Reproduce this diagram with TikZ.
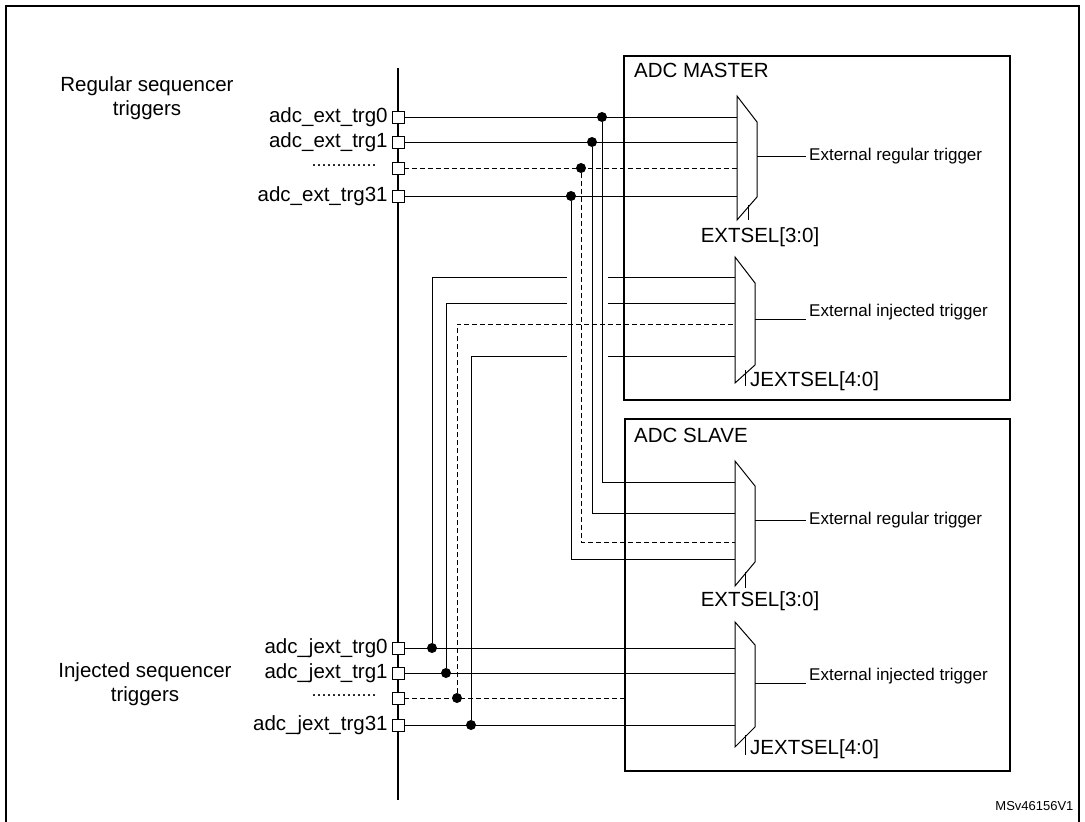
\documentclass[tikz,border=0pt]{standalone}
\usepackage{fontspec}
\setmainfont{Liberation Sans}
\usetikzlibrary{positioning,calc}
\tikzset{
 pin/.style={draw, fill=white, minimum size=12pt, inner sep=0pt},
 lbl/.style={font=\fontsize{20.5}{24}\selectfont, inner sep=1pt},
 sml/.style={font=\fontsize{17}{20}\selectfont, inner sep=1pt, anchor=west},
 wire/.style={line width=1pt},
 dwire/.style={line width=1pt, dash pattern=on 5pt off 3pt},
 joint/.style={circle, fill=black, inner sep=0pt, minimum size=10pt},
}
\begin{document}
\begin{tikzpicture}[x=1pt, y=-1pt]
 \useasboundingbox (0,0) rectangle (1085,822);
 %frame
 \draw[line width=1.4pt] (6,822) -- (6,6) -- (1079,6) -- (1079,822);
 \node[font=\fontsize{13}{15}\selectfont, anchor=east] (ref) at (1077,806) {MSv46156V1};

 %bus
 \draw[line width=1.8pt] (398,68) -- (398,800);

 %boxes
 \draw[line width=1.8pt] (624,56) rectangle (1010,400);
 \draw[line width=1.8pt] (625,419) rectangle (1010,771);
 \node[lbl, anchor=north west] (master) at (633,62) {ADC MASTER};
 \node[lbl, anchor=north west] (slave) at (633,427) {ADC SLAVE};

 %muxes
 \draw[wire] (737,96) -- (757,122) -- (757,197) -- (737,220) -- cycle;
 \draw[wire] (735,257) -- (755,283) -- (755,365) -- (735,383) -- cycle;
 \draw[wire] (735,461) -- (755,486) -- (755,562) -- (735,586) -- cycle;
 \draw[wire] (735,622) -- (755,645) -- (755,727) -- (735,747) -- cycle;
 \draw[wire] (748,205) -- (748,220);
 \draw[wire] (745,370) -- (745,386);
 \draw[wire] (745,572) -- (745,588);
 \draw[wire] (745,735) -- (745,755);
 \node[lbl, anchor=north] (msel) at (760,226) {EXTSEL[3:0]};
 \node[lbl, anchor=north west] (mjsel) at (749,370) {JEXTSEL[4:0]};
 \node[lbl, anchor=north] (ssel) at (760,590) {EXTSEL[3:0]};
 \node[lbl, anchor=north west] (sjsel) at (749,738) {JEXTSEL[4:0]};

 %outputs
 \draw[wire] (757,156) -- (806,156);
 \node[sml] (mro) at (808,156) {External regular trigger};
 \draw[wire] (755,319) -- (806,319);
 \node[sml] (mjo) at (808,312) {External injected trigger};
 \draw[wire] (755,520) -- (806,520);
 \node[sml] (sro) at (808,520) {External regular trigger};
 \draw[wire] (755,683) -- (806,683);
 \node[sml] (sjo) at (808,676) {External injected trigger};

 %pins
 \node[pin] (r0) at (398,117) {};
 \node[pin] (r1) at (398,142) {};
 \node[pin] (r2) at (398,168) {};
 \node[pin] (r3) at (398,196) {};
 \node[pin] (j0) at (398,648) {};
 \node[pin] (j1) at (398,673) {};
 \node[pin] (j2) at (398,698) {};
 \node[pin] (j3) at (398,725) {};
 \node[lbl, left=3pt of r0] (lr0) {adc\_ext\_trg0};
 \node[lbl, left=3pt of r1] (lr1) {adc\_ext\_trg1};
 \node[lbl, left=14pt of r2, font=\fontsize{18}{20}\selectfont] (lr2) {\raisebox{5pt}{.............}};
 \node[lbl, left=3pt of r3] (lr3) {adc\_ext\_trg31};
 \node[lbl, left=3pt of j0] (lj0) {adc\_jext\_trg0};
 \node[lbl, left=3pt of j1] (lj1) {adc\_jext\_trg1};
 \node[lbl, left=14pt of j2, font=\fontsize{18}{20}\selectfont] (lj2) {\raisebox{5pt}{.............}};
 \node[lbl, left=3pt of j3] (lj3) {adc\_jext\_trg31};
 \node[lbl, align=center] (reg) at (147,98) {Regular sequencer\\triggers};
 \node[lbl, align=center] (inj) at (145,684) {Injected sequencer\\triggers};

 %regular triggers
 \node[joint] (d0) at (602,117) {};
 \node[joint] (d1) at (592,142) {};
 \node[joint] (d2) at (581,168) {};
 \node[joint] (d3) at (571,196) {};
 \draw[wire] (r0) -- (737,117);
 \draw[wire] (r1) -- (737,142);
 \draw[dwire] (r2) -- (737,168);
 \draw[wire] (r3) -- (737,196);
 \draw[wire] (d0) |- (735,482);
 \draw[wire] (d1) |- (735,513);
 \draw[dwire] (d2) |- (735,542);
 \draw[wire] (d3) |- (735,559);

 %injected triggers
 \node[joint] (e0) at (432,648) {};
 \node[joint] (e1) at (446,673) {};
 \node[joint] (e2) at (457,698) {};
 \node[joint] (e3) at (471,725) {};
 \draw[wire] (j0) -- (735,648);
 \draw[wire] (j1) -- (735,673);
 \draw[dwire] (j2) -- (625,698);
 \draw[wire] (j3) -- (735,725);
 \draw[wire] (e0) |- (567,277);
 \draw[wire] (e1) |- (567,303);
 \draw[dwire] (e2) |- (735,324);
 \draw[wire] (e3) |- (567,356);
 \draw[wire] (608,277) -- (735,277);
 \draw[wire] (608,303) -- (735,303);
 \draw[wire] (608,356) -- (735,356);
\end{tikzpicture}
\end{document}
